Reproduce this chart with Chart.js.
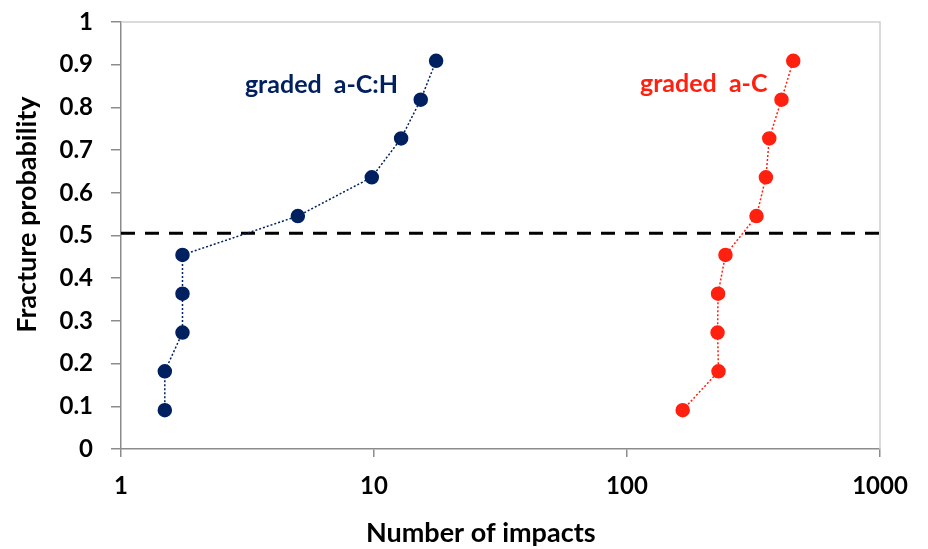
<!DOCTYPE html>
<html>
<head>
<meta charset="utf-8">
<script src="https://cdn.jsdelivr.net/npm/chart.js@4.4.1/dist/chart.umd.min.js"></script>
<style>
  html, body { margin: 0; padding: 0; background: #ffffff; }
  #wrap { width: 928px; height: 549px; position: relative; }
</style>
</head>
<body>
<div id="wrap"><canvas id="c"></canvas></div>
<script>
// ---- data ----
const probability = [0.0909, 0.1818, 0.2727, 0.3636, 0.4545, 0.5455, 0.6364, 0.7273, 0.8182, 0.9091];
const impactsACH = [1.49, 1.49, 1.75, 1.75, 1.75, 5.0, 9.8, 12.8, 15.3, 17.6];
const impactsAC  = [166, 230, 228, 229, 245, 325, 354, 365, 408, 454];
const seriesNames = ['graded  a-C:H', 'graded  a-C'];
const thresholdY = 0.505;
const xTicks = [1, 10, 100, 1000];
const yTicks = [0, 0.1, 0.2, 0.3, 0.4, 0.5, 0.6, 0.7, 0.8, 0.9, 1];
const yTickLabels = ['0', '0.1', '0.2', '0.3', '0.4', '0.5', '0.6', '0.7', '0.8', '0.9', '1'];
const labelPos = [{ x: 6.2, y: 0.852 }, { x: 201, y: 0.855 }];
const xTitle = 'Number of impacts';
const yTitle = 'Fracture probability';

const NAVY = '#002060';
const RED = '#ff2010';
const FONT = 'Lato, "Open Sans", sans-serif';

const toPts = (xs) => xs.map((x, i) => ({ x: x, y: probability[i] }));

const frame = {
  id: 'frame',
  beforeDatasetsDraw(chart) {
    const { ctx, chartArea: a } = chart;
    ctx.save();
    ctx.strokeStyle = '#cfcfcf';
    ctx.lineWidth = 1.5;
    ctx.beginPath();
    ctx.moveTo(a.left, a.top);
    ctx.lineTo(a.right, a.top);
    ctx.lineTo(a.right, a.bottom);
    ctx.stroke();
    ctx.restore();
  },
  afterDatasetsDraw(chart) {
    const { ctx, scales, chartArea: a } = chart;
    ctx.save();
    ctx.font = 'bold 25px ' + FONT;
    ctx.textAlign = 'center';
    ctx.textBaseline = 'middle';
    const cols = [NAVY, RED];
    seriesNames.forEach((t, i) => {
      ctx.fillStyle = cols[i];
      ctx.fillText(t, scales.x.getPixelForValue(labelPos[i].x), scales.y.getPixelForValue(labelPos[i].y));
    });
    // axis titles
    ctx.fillStyle = '#000';
    ctx.font = 'bold 27px ' + FONT;
    ctx.fillText(xTitle, a.left + (a.right - a.left) * 0.474, 533);
    ctx.translate(27, a.top + (a.bottom - a.top) * 0.451);
    ctx.rotate(-Math.PI / 2);
    ctx.fillText(yTitle, 0, 0);
    ctx.restore();
  }
};

new Chart(document.getElementById('c'), {
  type: 'scatter',
  data: {
    datasets: [
      {
        label: 'threshold',
        data: [{ x: xTicks[0], y: thresholdY }, { x: xTicks[xTicks.length - 1], y: thresholdY }],
        showLine: true,
        borderColor: '#000000',
        borderWidth: 3,
        borderDash: [14, 10],
        pointRadius: 0,
        order: 3
      },
      {
        label: seriesNames[0],
        data: toPts(impactsACH),
        showLine: true,
        borderColor: NAVY,
        borderWidth: 1.5,
        borderDash: [2, 2],
        backgroundColor: NAVY,
        pointBackgroundColor: NAVY,
        pointBorderColor: NAVY,
        pointRadius: 6.5,
        order: 1
      },
      {
        label: seriesNames[1],
        data: toPts(impactsAC),
        showLine: true,
        borderColor: RED,
        borderWidth: 1.5,
        borderDash: [2, 2],
        backgroundColor: RED,
        pointBackgroundColor: RED,
        pointBorderColor: RED,
        pointRadius: 6.5,
        order: 2
      }
    ]
  },
  options: {
    responsive: true,
    maintainAspectRatio: false,
    animation: false,
    layout: { padding: { left: 0, right: 48, top: 22, bottom: 0 } },
    plugins: { legend: { display: false }, tooltip: { enabled: false } },
    scales: {
      x: {
        type: 'logarithmic',
        min: 1,
        max: 1000,
        afterBuildTicks(scale) { scale.ticks = xTicks.map(v => ({ value: v })); },
        afterFit(scale) { scale.height = 100; scale.paddingLeft = 0; scale.paddingRight = 0; },
        ticks: {
          color: '#000',
          font: { family: FONT, size: 24, weight: 'bold' },
          padding: 15,
          maxRotation: 0,
          callback: (v) => String(v)
        },
        grid: { drawOnChartArea: false, drawTicks: true, tickLength: 8, color: '#8c8c8c', lineWidth: 1.5 },
        border: { display: true, color: '#8c8c8c', width: 1.5 },
        title: { display: false }
      },
      y: {
        type: 'linear',
        min: 0,
        max: 1,
        afterBuildTicks(scale) { scale.ticks = yTicks.map(v => ({ value: v })); },
        afterFit(scale) { scale.width = 121; scale.paddingTop = 0; scale.paddingBottom = 0; },
        ticks: {
          color: '#000',
          font: { family: FONT, size: 24, weight: 'bold' },
          padding: 18,
          callback: (v, i) => yTickLabels[i]
        },
        grid: { drawOnChartArea: false, drawTicks: true, tickLength: 10, color: '#8c8c8c', lineWidth: 1.5 },
        border: { display: true, color: '#8c8c8c', width: 1.5 },
        title: { display: false }
      }
    }
  },
  plugins: [frame]
});
</script>
</body>
</html>
